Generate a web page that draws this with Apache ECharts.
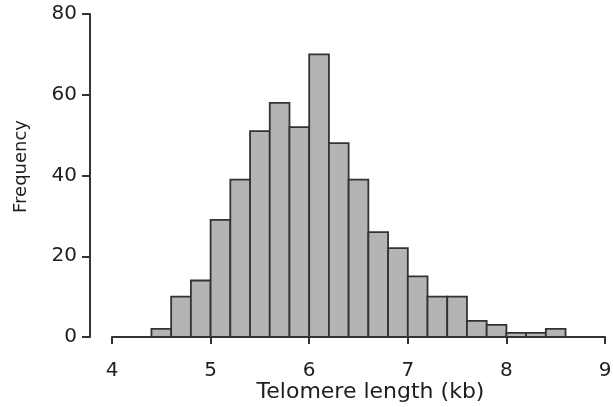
<!DOCTYPE html>
<html>
<head>
<meta charset="utf-8">
<script src="https://cdn.jsdelivr.net/npm/echarts@6/dist/echarts.min.js"></script>
<style>html,body{margin:0;padding:0;background:#fff}#chart{width:613px;height:407px}</style>
</head>
<body>
<div id="chart"></div>
<script>
// Histogram bin edges (kb) and counts
const binEdges = [4.4, 4.6, 4.8, 5.0, 5.2, 5.4, 5.6, 5.8, 6.0, 6.2, 6.4, 6.6, 6.8, 7.0, 7.2, 7.4, 7.6, 7.8, 8.0, 8.2, 8.4, 8.6];
const counts   = [2, 10, 14, 29, 39, 51, 58, 52, 70, 48, 39, 26, 22, 15, 10, 10, 4, 3, 1, 1, 2];
const xTicks = [4, 5, 6, 7, 8, 9];
const yTicks = [0, 20, 40, 60, 80];
const xTitle = 'Telomere length (kb)';
const yTitle = 'Frequency';

const data = counts.map((c, i) => [binEdges[i], binEdges[i + 1], c]);

const chart = echarts.init(document.getElementById('chart'), null, {renderer: 'canvas'});
const txt = '#1e1e1e';
const axisCol = '#333333';
chart.setOption({
  animation: false,
  backgroundColor: '#ffffff',
  grid: {left: 112, right: 8, top: 14, bottom: 70, containLabel: false, outerBoundsMode: 'none'},
  xAxis: {
    type: 'value',
    min: xTicks[0], max: xTicks[xTicks.length - 1], interval: 1,
    offset: 14,
    name: xTitle, nameLocation: 'middle', nameGap: 30, nameMoveOverlap: false,
    nameTextStyle: {fontFamily: 'DejaVu Sans', fontSize: 22, color: txt, padding: [0, 0, 0, 24]},
    axisLine: {show: true, lineStyle: {color: axisCol, width: 2}},
    axisTick: {show: true, length: 7, lineStyle: {color: axisCol, width: 2}},
    axisLabel: {fontFamily: 'DejaVu Sans', fontSize: 20, color: txt, margin: 10, showMaxLabel: true, showMinLabel: true},
    splitLine: {show: false}
  },
  yAxis: {
    type: 'value',
    min: yTicks[0], max: yTicks[yTicks.length - 1], interval: 20,
    offset: 22,
    name: yTitle, nameLocation: 'middle', nameGap: 60, nameRotate: 90, nameMoveOverlap: false,
    nameTextStyle: {fontFamily: 'DejaVu Sans', fontSize: 18, color: txt, padding: [0, 0, 0, 18]},
    axisLine: {show: true, lineStyle: {color: axisCol, width: 2}},
    axisTick: {show: true, length: 8, lineStyle: {color: axisCol, width: 2}},
    axisLabel: {fontFamily: 'DejaVu Sans', fontSize: 20, color: txt, margin: 13},
    splitLine: {show: false}
  },
  series: [{
    type: 'custom',
    data: data,
    encode: {x: [0, 1], y: 2},
    clip: false,
    renderItem: function (params, api) {
      const s = api.coord([api.value(0), 0]);
      const e = api.coord([api.value(1), api.value(2)]);
      return {
        type: 'rect',
        shape: {x: s[0], y: e[1], width: e[0] - s[0], height: s[1] - e[1]},
        style: {fill: '#b4b4b4', stroke: '#333333', lineWidth: 1.8}
      };
    }
  }]
});
</script>
</body>
</html>
